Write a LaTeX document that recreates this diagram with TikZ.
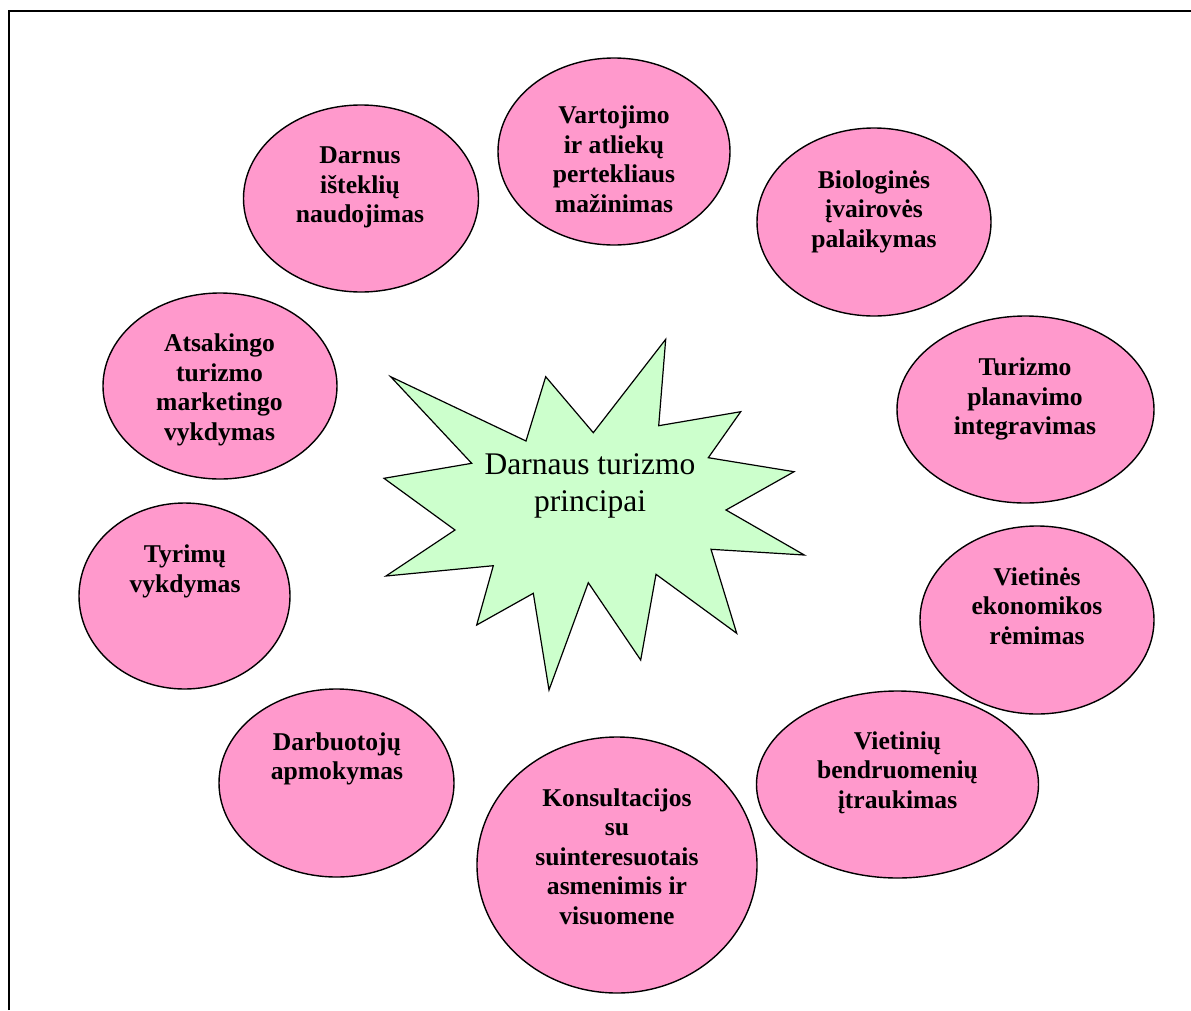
\documentclass[tikz,border=0pt]{standalone}
\usepackage{fontspec}
\setmainfont{Liberation Serif}
\usetikzlibrary{shapes.geometric}
\definecolor{pinkfill}{RGB}{255,153,204}
\definecolor{greenfill}{RGB}{204,255,204}
\begin{document}
\begin{tikzpicture}[x=1pt,y=-1pt,
  bubble/.style={ellipse,draw=black,line width=1.4pt,fill=pinkfill,inner sep=0pt},
  lbl/.style={font=\fontsize{25.6}{29.5}\selectfont\bfseries,align=center,inner sep=0pt,anchor=north},
  frameline/.style={line width=2pt,draw=black},
  starshape/.style={draw=black,line width=1.2pt,fill=greenfill,line join=miter}
  ]
\useasboundingbox (0,0) rectangle (1191,1010);
% frame
\coordinate (fb) at (9,1010);
\coordinate (fc) at (9,10.8);
\coordinate (fr) at (1191,10.8);
\draw[frameline] (fb) -- (fc) -- (fr);

% ellipses
\node[bubble,minimum width=235pt,minimum height=187pt] (e1) at (361,198.5) {};
\node[bubble,minimum width=232pt,minimum height=187pt] (e2) at (614,151.5) {};
\node[bubble,minimum width=234pt,minimum height=188pt] (e3) at (874,222) {};
\node[bubble,minimum width=257pt,minimum height=187pt] (e4) at (1025.5,409.5) {};
\node[bubble,minimum width=234pt,minimum height=188pt] (e5) at (1037,620) {};
\node[bubble,minimum width=282pt,minimum height=187pt] (e6) at (897.5,784.5) {};
\node[bubble,minimum width=280pt,minimum height=256pt] (e7) at (617,865) {};
\node[bubble,minimum width=235pt,minimum height=188pt] (e8) at (336.5,783) {};
\node[bubble,minimum width=211pt,minimum height=186pt] (e9) at (184.5,596) {};
\node[bubble,minimum width=234pt,minimum height=186pt] (e10) at (220,386) {};

% labels
\node[lbl] (t1) at (360,147) {Darnus\\išteklių\\naudojimas};
\node[lbl] (t2) at (614,106) {Vartojimo\\ir atliekų\\pertekliaus\\mažinimas};
\node[lbl] (t3) at (874,170.5) {Biologinės\\įvairovės\\palaikymas};
\node[lbl] (t4) at (1025,358) {Turizmo\\planavimo\\integravimas};
\node[lbl] (t5) at (1037,567.5) {Vietinės\\ekonomikos\\rėmimas};
\node[lbl] (t6) at (897.5,731.5) {Vietinių\\bendruomenių\\įtraukimas};
\node[lbl] (t7) at (617,788.5) {Konsultacijos\\su\\suinteresuotais\\asmenimis ir\\visuomene};
\node[lbl] (t8) at (337,732.5) {Darbuotojų\\apmokymas};
\node[lbl] (t9) at (185,545) {Tyrimų\\vykdymas};
\node[lbl] (t10) at (219.5,334) {Atsakingo\\turizmo\\marketingo\\vykdymas};

% star
\draw[starshape] (390.7,376.7) -- (526,441) -- (545.7,376.7) -- (593.3,432.7)
  -- (665.7,339.3) -- (658.7,425.7) -- (740.7,411.7) -- (708.3,457.7)
  -- (794,471.7) -- (726,510) -- (804.3,555) -- (711,549.3)
  -- (736.7,633.3) -- (656,574.3) -- (640.7,660) -- (588.3,582.7)
  -- (549,690) -- (533.3,593.3) -- (476.7,625) -- (493.3,565.7)
  -- (386,576) -- (455,530) -- (384,478.3) -- (471.7,463.3) -- cycle;
\node[font=\fontsize{31.5}{36.7}\selectfont,align=center,inner sep=0pt,anchor=north] (ct) at (590,453.5) {Darnaus turizmo\\principai};
\end{tikzpicture}
\end{document}
